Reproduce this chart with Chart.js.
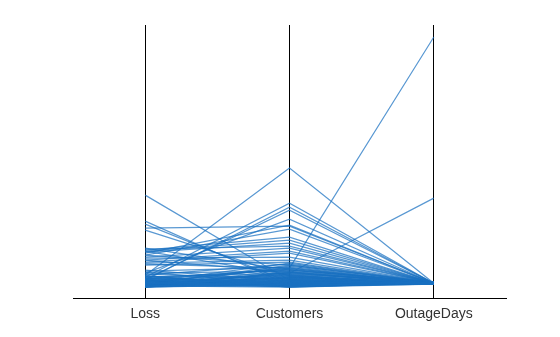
<!DOCTYPE html>
<html>
<head>
<meta charset="utf-8">
<script src="https://cdn.jsdelivr.net/npm/chart.js@4/dist/chart.umd.min.js"></script>
<style>
  html, body { margin: 0; padding: 0; background: #fff; }
  #wrap { width: 560px; height: 337px; }
</style>
</head>
<body>
<div id="wrap"><canvas id="c" width="560" height="337"></canvas></div>
<script>
// Axes (categories) of the parallel-coordinates plot
const categories = ['Loss', 'Customers', 'OutageDays'];

// One value per record on each axis (shared vertical scale)
const loss = [
  36.8, 26.4, 25.2, 23.6, 22.8, 4.8, 4.0, 2.8, 3.2, 5.6, 2.0, 1.2,
  14.8, 14.4, 14.0, 15.2, 13.6, 12.8, 12.0, 10.8, 10.0, 11.6, 9.6, 8.8, 15.6, 14.4, 12.8, 10.8, 9.2,
  6.8, 6.4, 6.0, 5.6, 5.2, 4.8, 4.4, 4.0, 3.6, 3.2, 2.8, 2.4, 2.0, 1.6, 1.2, 0.8, 0.4, 0.0, 0.2, 0.6,
  1.0, 1.4, 1.8, 2.2, 2.6, 3.0, 3.4, 3.8, 0.3, 0.5, 0.9, 1.1, 1.5, 0.1, 0.7, 2.1, 1.3, 0.4, 0.2, 0.0,
  0.6, 1.2, 0.3, 2.4, 0.8, 1.7, 0.1, 3.1, 0.5, 1.9, 0.2, 2.7, 0.9, 4.2, 0.4, 1.3, 0.0, 2.3, 0.7, 1.6,
  0.3, 3.5, 0.5, 1.0, 0.2, 2.9, 0.8, 1.4, 0.1, 4.6
];
const customers = [
  2.8, 0.8, 2.0, 24.4, 4.4, 47.6, 33.6, 32.0, 30.8, 27.2, 7.6, 5.6,
  20.0, 18.8, 17.6, 16.4, 24.8, 23.2, 15.6, 14.4, 13.6, 12.0, 10.8, 10.0, 6.8, 4.8, 8.8, 6.0, 7.6,
  2.4, 8.0, 1.2, 6.4, 3.2, 9.2, 0.8, 5.6, 2.0, 7.2, 1.6, 4.4, 9.6, 0.4, 3.6, 6.0, 2.8, 1.0, 8.4, 0.6,
  5.2, 1.4, 7.6, 3.0, 0.2, 4.8, 2.2, 6.8, 1.8, 0.0, 3.8, 8.8, 0.9, 5.0, 2.6, 1.1, 4.0, 0.5, 7.0, 1.5,
  1.8, 0.4, 3.4, 1.0, 5.4, 0.2, 2.6, 0.7, 4.2, 1.3, 6.2, 0.1, 2.1, 0.6, 3.0, 1.6, 4.6, 0.3, 2.4, 0.9,
  5.8, 1.2, 3.6, 0.5, 2.0, 0.8, 4.0, 1.4, 2.9, 0.0
];
const outageDays = [
  1.6, 1.6, 1.6, 1.6, 1.6, 1.6, 1.6, 1.6, 1.6, 1.6, 100.0, 35.6,
  1.6, 1.6, 1.6, 1.6, 1.6, 1.6, 1.6, 1.6, 1.6, 1.6, 1.6, 1.6, 1.6, 1.2, 1.6, 1.6, 1.6,
  1.6, 1.2, 2.0, 1.6, 1.2, 1.6, 1.6, 2.0, 1.2, 1.6, 1.6, 1.2, 1.6, 2.0, 1.6, 1.2, 1.6, 1.6, 1.2, 1.6,
  2.0, 1.6, 1.2, 1.6, 1.6, 1.2, 1.6, 2.0, 1.6, 1.2, 1.6, 1.6, 1.6, 1.2, 1.6, 2.0, 1.6, 1.2, 1.6, 1.6,
  1.6, 1.2, 1.6, 1.6, 2.0, 1.6, 1.2, 1.6, 1.6, 1.6, 1.2, 1.6, 1.6, 2.0, 1.6, 1.6, 1.2, 1.6, 1.6, 1.6,
  1.2, 1.6, 1.6, 1.6, 2.0, 1.6, 1.6, 1.2, 1.6, 1.6
];

const lineColor = 'rgba(25,112,192,0.72)';

const datasets = loss.map((v, i) => ({
  data: [v, customers[i], outageDays[i]],
  borderColor: lineColor,
  backgroundColor: lineColor,
  borderWidth: 1.2,
  pointRadius: 0,
  tension: 0,
  fill: false
}));

new Chart(document.getElementById('c'), {
  type: 'line',
  data: { labels: categories, datasets },
  options: {
    responsive: false,
    animation: false,
    events: [],
    layout: { padding: { left: 73, right: 54, top: 25, bottom: 6 } },
    plugins: { legend: { display: false }, tooltip: { enabled: false } },
    scales: {
      x: {
        type: 'category',
        offset: true,
        z: 1,
        grid: { display: true, offset: false, color: '#000', lineWidth: 1, drawTicks: false },
        border: { display: true, color: '#000', width: 1 },
        ticks: { color: '#333', padding: 8, font: { family: 'Liberation Sans', size: 14 } }
      },
      y: {
        display: false,
        min: -4.4,
        max: 104.8
      }
    }
  }
});
</script>
</body>
</html>
